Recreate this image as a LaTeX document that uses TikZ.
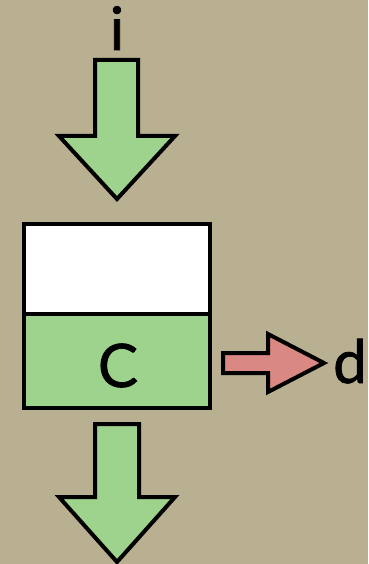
\documentclass[tikz,border=0pt]{standalone}
\usepackage{fontspec}
\setmainfont{Lato}
\newfontfamily\labfont[FakeBold=1.2]{Lato}
\definecolor{parchment}{RGB}{185,175,145}
\definecolor{leaf}{RGB}{157,211,140}
\definecolor{rose}{RGB}{217,136,132}
\begin{document}
\begin{tikzpicture}[x=1pt,y=-1pt,
  outline/.style={draw=black,line width=4pt,line join=miter},
  greenfill/.style={fill=leaf},
  redfill/.style={fill=rose},
  label/.style={font=\labfont\fontsize{60}{60}\selectfont,inner sep=0pt,anchor=base}]
  % parchment background
  \fill[parchment] (0,0) rectangle (368,564);
  \useasboundingbox (0,0) rectangle (368,564);

  % input arrow
  \node[label] (in) at (117,50) {i};
  \draw[outline,greenfill] (95,60) -- (138,60) -- (138,136) -- (175,136)
     -- (117,199) -- (59,136) -- (95,136) -- cycle;

  % storage box: empty upper part, filled lower part
  \draw[outline,fill=white] (24,224) rectangle (210,314);
  \draw[outline,greenfill] (24,314) rectangle (210,408);
  \node[label] (c) at (118,387) {C};

  % output arrow
  \draw[outline,redfill] (223,353) -- (268,353) -- (268,334) -- (324,363)
     -- (268,392) -- (268,373) -- (223,373) -- cycle;
  \node[label,anchor=base west] (d) at (333,383) {d};

  % lower arrow
  \draw[outline,greenfill] (95,424) -- (139,424) -- (139,497) -- (175,497)
     -- (117,562) -- (59,497) -- (95,497) -- cycle;
\end{tikzpicture}
\end{document}
